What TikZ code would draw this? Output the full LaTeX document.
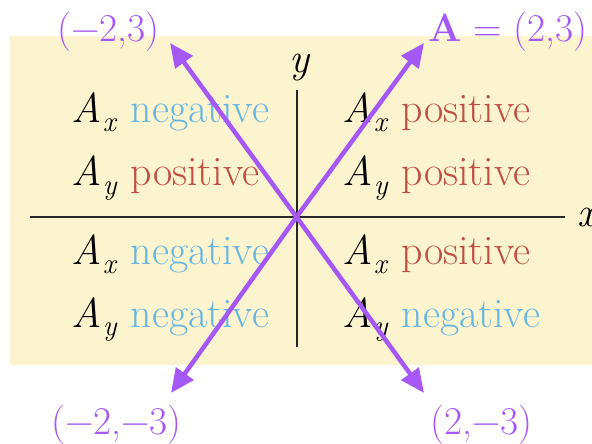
\documentclass[tikz,border=0pt]{standalone}
\usepackage{fontspec}
\usetikzlibrary{arrows.meta}
\definecolor{bgyellow}{RGB}{252,244,206}
\definecolor{negblue}{RGB}{104,182,226}
\definecolor{posred}{RGB}{192,78,66}
\definecolor{vecpurple}{RGB}{166,88,246}
\newcommand{\Comp}[2]{\textit{#1}\kern0.03em\raisebox{-0.2em}{\fontsize{29}{30}\selectfont\textit{#2}}\kern0.32em}
\tikzset{
  rowtext/.style={anchor=base west, inner sep=0pt, font=\fontsize{42}{50}\selectfont},
  lbl/.style={anchor=base west, inner sep=0pt, text=vecpurple, font=\fontsize{39.5}{46}\selectfont},
  axis/.style={line width=2pt, black!85},
  vec/.style={line width=4.5pt, vecpurple, -{Triangle[length=24pt,width=21pt]}}
}
\begin{document}
\begin{tikzpicture}[x=1bp,y=-1bp]
\useasboundingbox (0,0) rectangle (592,444);
\fill[bgyellow] (10,36) rectangle (592,365);
% axes
\coordinate (O) at (296.5,217);
\coordinate (xl) at (30,217);
\coordinate (xr) at (565,217);
\coordinate (yt) at (296.5,90);
\coordinate (yb) at (296.5,347);
\draw[axis] (xl) -- (xr);
\draw[axis] (yt) -- (yb);
\node[rowtext] (xlab) at (577,227) {\textit{x}};
\node[rowtext] (ylab) at (289,73) {\textit{y}};
% quadrant texts
\node[rowtext] (q2a) at (71,123) {\Comp{A}{x}\textcolor{negblue}{negative}};
\node[rowtext] (q2b) at (71,186) {\Comp{A}{y}\textcolor{posred}{positive}};
\node[rowtext] (q1a) at (342,123) {\Comp{A}{x}\textcolor{posred}{positive}};
\node[rowtext] (q1b) at (342,186) {\Comp{A}{y}\textcolor{posred}{positive}};
\node[rowtext] (q3a) at (71,265) {\Comp{A}{x}\textcolor{negblue}{negative}};
\node[rowtext] (q3b) at (71,327) {\Comp{A}{y}\textcolor{negblue}{negative}};
\node[rowtext] (q4a) at (342,265) {\Comp{A}{x}\textcolor{posred}{positive}};
\node[rowtext] (q4b) at (342,327) {\Comp{A}{y}\textcolor{negblue}{negative}};
% vectors
\coordinate (t1) at (424,43);
\coordinate (t2) at (170,43);
\coordinate (t3) at (171,393);
\coordinate (t4) at (424,393);
\draw[vec] (O) -- (t1);
\draw[vec] (O) -- (t2);
\draw[vec] (O) -- (t3);
\draw[vec] (O) -- (t4);
% labels
\node[lbl] (l1) at (428,42) {\textbf{A} = (2,3)};
\node[lbl] (l2) at (57,42) {(−2,3)};
\node[lbl] (l3) at (51,434) {(−2,−3)};
\node[lbl] (l4) at (430,434) {(2,−3)};
\end{tikzpicture}
\end{document}
